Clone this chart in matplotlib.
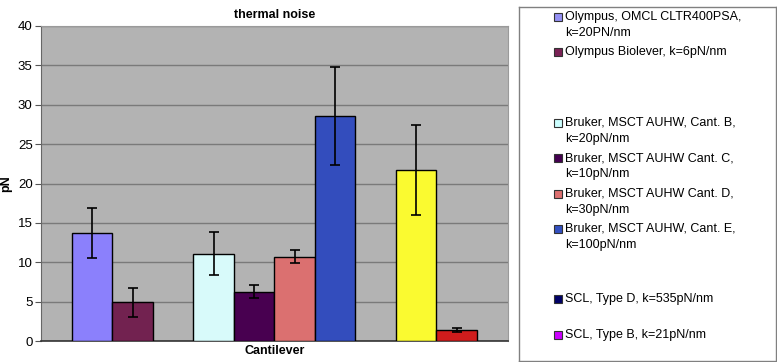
import matplotlib.pyplot as plt
from matplotlib.patches import Rectangle

plt.rcParams['font.family'] = ['Liberation Sans', 'DejaVu Sans']

# bars as they are drawn, in order, grouped by manufacturer
group_sizes = [2, 4, 2]
values = [13.7, 4.9, 11.1, 6.25, 10.7, 28.6, 21.7, 1.35]
errors = [3.2, 1.8, 2.7, 0.8, 0.85, 6.2, 5.7, 0.25]
bar_colors = ['#8B80FC', '#722250', '#D8FAFA', '#480050',
              '#DB7070', '#334DBD', '#FAFA30', '#D01C1C']

# legend (includes the two blank entries of the original)
legend_labels = ['Olympus, OMCL CLTR400PSA,\nk=20PN/nm',
                 'Olympus Biolever, k=6pN/nm',
                 '',
                 'Bruker, MSCT AUHW, Cant. B,\nk=20pN/nm',
                 'Bruker, MSCT AUHW Cant. C,\nk=10pN/nm',
                 'Bruker, MSCT AUHW Cant. D,\nk=30pN/nm',
                 'Bruker, MSCT AUHW, Cant. E,\nk=100pN/nm',
                 '',
                 'SCL, Type D, k=535pN/nm',
                 'SCL, Type B, k=21pN/nm']
legend_colors = ['#9490F4', '#7A2255', None, '#CCFFFF', '#440050',
                 '#DD7070', '#3350C0', None, '#000066', '#CC00FF']

W, H = 777, 362
fig = plt.figure(figsize=(W / 100, H / 100), dpi=100)

def fx(px):
    return px / W

def fy(py):
    return 1 - py / H

# slot positions: one empty slot between groups
pos = []
slot = 0
for n in group_sizes:
    for k in range(n):
        pos.append(slot)
        slot += 1
    slot += 1

ax = fig.add_axes([fx(41), fy(341), fx(508) - fx(41), fy(26) - fy(341)])
ax.set_facecolor('#B3B3B3')
ax.bar(pos, values, width=1.0, color=bar_colors, edgecolor='black',
       linewidth=1.0, zorder=3)
ax.errorbar(pos, values, yerr=errors, fmt='none', ecolor='black',
            elinewidth=1.2, capsize=3.5, capthick=1.2, zorder=4)

ax.set_xlim(-1.26, pos[-1] + 1.27)
ax.set_ylim(0, 40)
ax.set_yticks(range(0, 41, 5))
ax.set_xticks([])
ax.yaxis.grid(True, color='#7A7A7A', linewidth=1.0, zorder=0)
ax.set_axisbelow(True)
ax.tick_params(axis='y', labelsize=9.5, length=4, color='#555555', pad=2)
for s in ['top', 'right']:
    ax.spines[s].set_color('#9A9A9A')
ax.spines['left'].set_color('#666666')
ax.spines['bottom'].set_color('#333333')
ax.spines['bottom'].set_linewidth(1.2)

ax.set_title('thermal noise', fontsize=9, fontweight='bold', pad=6)
ax.set_xlabel('Cantilever', fontsize=9, fontweight='bold', labelpad=3)
ax.set_ylabel('pN', fontsize=9, fontweight='bold', labelpad=4)

# legend box drawn by hand so that entries have an equal pitch
lax = fig.add_axes([fx(519), fy(361), fx(776) - fx(519), fy(7) - fy(361)])
lax.set_xticks([])
lax.set_yticks([])
for s in lax.spines.values():
    s.set_color('#808080')
    s.set_linewidth(1.0)

for i, (lab, col) in enumerate(zip(legend_labels, legend_colors)):
    ytop = 13 + 35.3 * i
    if col is None:
        continue
    fig.patches.append(Rectangle((fx(554), fy(ytop + 8)), fx(8), 8 / H,
                                 transform=fig.transFigure,
                                 facecolor=col, edgecolor='#333333',
                                 linewidth=0.8))
    fig.text(fx(565), fy(ytop - 2), lab, fontsize=9, va='top', ha='left',
             linespacing=1.45)

fig.savefig('out.png', dpi=100)
